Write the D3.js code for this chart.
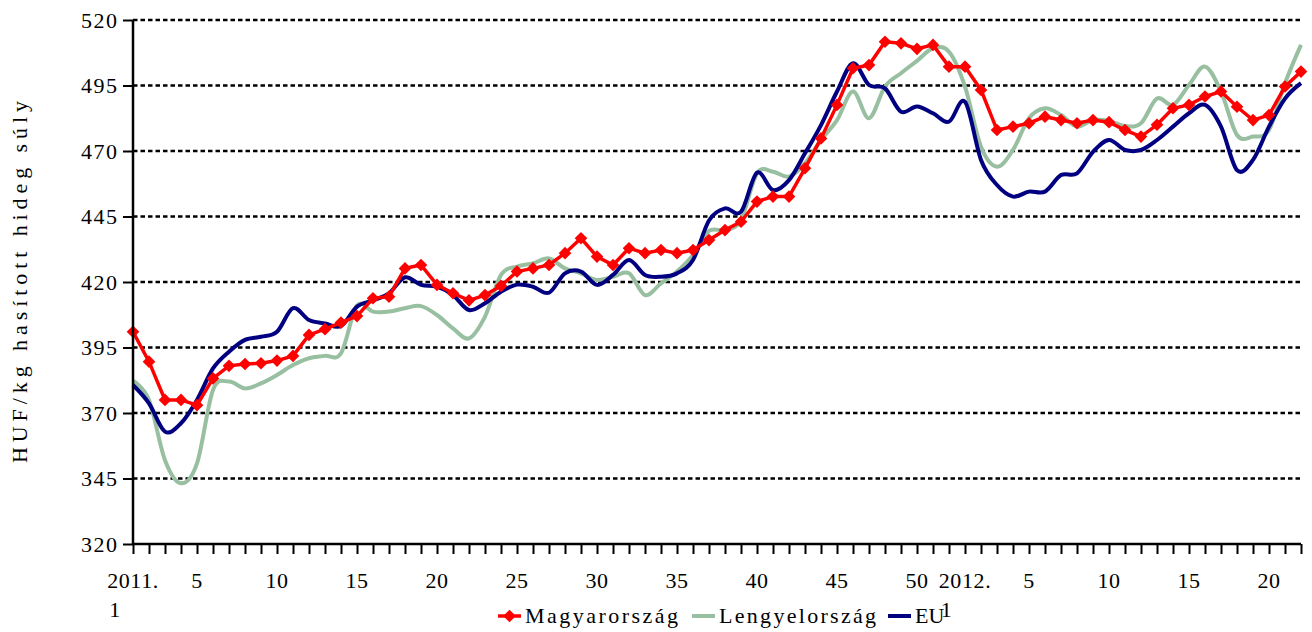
<!DOCTYPE html>
<html lang="hu">
<head>
    <meta charset="UTF-8">
    <title>Sertésárak</title>
    <script src="https://cdn.jsdelivr.net/npm/d3@7"></script>
    <style>
        body { margin: 0; background: #fff; }
        text { font-family: "Liberation Serif", "Times New Roman", serif; fill: #000; }
    </style>
</head>
<body>
    <script>
        // 2011. 1. héttől 2012. 22. hétig
        const weeks2011 = d3.range(1, 53);
        const weeks2012 = d3.range(1, 23);
        const categories = [
            ...weeks2011.map(w => w === 1 ? "2011.|1" : String(w)),
            ...weeks2012.map(w => w === 1 ? "2012.|1" : String(w))
        ];
        const yTicks = [320, 345, 370, 395, 420, 445, 470, 495, 520];

        const magyar = [
            401, 389.6, 375, 375, 373, 383.2, 388, 388.7, 389, 390, 391.8, 399.8, 402,
            404.5, 407, 413.8, 414.4, 425.2, 426.5, 418.9, 415.7, 413, 415, 418.5,
            424, 425.2, 426.5, 431, 436.7, 429.7, 426.5, 432.9, 431, 432.2, 431, 432.2,
            436, 439.8, 443, 450.7, 452.6, 452.6, 463.4, 474.8, 487.6, 501.6, 502.8,
            511.7, 511.1, 509, 510.5, 502.2,
            502.2, 493.3, 478, 479.3, 480.6, 483.1, 481.8, 480.6, 481.8, 481, 478,
            475.5, 480, 486.3, 487.6, 490.8, 492.7, 486.9, 481.8, 483.7, 494.6, 500.3
        ];
        const lengyel = [
            382.3, 375, 352, 343.2, 350.8, 378.8, 382, 379.4, 381.3, 384.5, 388.3, 390.9, 391.8,
            392.8, 411, 408.7, 408.7, 410, 410.8, 407.4, 402.3, 398.5, 406.8, 422.7,
            425.9, 427.1, 429, 425.2, 423.3, 420.8, 422, 423.3, 415, 419.5, 424, 430.3,
            439.5, 439.8, 443.7, 461.5, 462.1, 460.2, 465.3, 474.2, 481.8, 492.7, 482.5,
            494.6, 499.7, 504.4, 509.2, 507.9,
            494.6, 471.6, 464, 470.4, 482.5, 486.3, 483.7, 479.3, 481.8, 481.5, 479.5,
            480.6, 490, 487.6, 495.2, 502.2, 492.7, 476.1, 475.5, 478, 495.9, 510.5
        ];
        const eu = [
            380.7, 373.7, 362.9, 366.1, 375, 387, 393.4, 397.9, 399.1, 401, 410, 405.5, 404.2,
            403.2, 410.6, 413, 415.7, 421.8, 418.9, 418.2, 415, 409.3, 411.9, 416.3,
            419, 418.2, 415.9, 423.3, 424, 418.9, 422.7, 428.4, 422.7, 422, 423.3, 428.4,
            443.5, 448.1, 446.8, 461.7, 455.1, 458.9, 469.1, 479.9, 492.7, 503.5, 495.2,
            493.9, 485, 487, 484.4, 481.2,
            488.8, 466.6, 457, 452.6, 454.5, 454.5, 460.8, 461.5, 469.7, 474.2, 470.4,
            470.4, 474.2, 479.3, 484.4, 487.6, 479.3, 462.7, 466.6, 479.3, 490, 495.9
        ];

        const seriesNames = ["Magyarország", "Lengyelország", "EU"];
        const seriesColors = ["#ff0000", "#97bfa0", "#000080"];

        const width = 1312, height = 632;
        const plotLeft = 133, plotRight = 1301, plotTop = 20, plotBottom = 544;
        const fontSize = 22;

        const x = d3.scalePoint().domain(d3.range(categories.length)).range([plotLeft, plotRight]);
        const y = d3.scaleLinear().domain([320, 520]).range([plotBottom, plotTop]);

        const svg = d3.select("body").append("svg").attr("width", width).attr("height", height);

        // rácsvonalak
        svg.append("g").selectAll("line").data(yTicks.slice(1)).enter().append("line")
            .attr("x1", plotLeft).attr("x2", plotRight)
            .attr("y1", d => y(d)).attr("y2", d => y(d))
            .attr("stroke", "#000").attr("stroke-width", 2.5).attr("stroke-dasharray", "4.5,3");

        // vonalak
        const smooth = d3.line().x((d, i) => x(i)).y(d => y(d)).curve(d3.curveCatmullRom.alpha(0));
        const straight = d3.line().x((d, i) => x(i)).y(d => y(d));

        svg.append("path").attr("d", smooth(lengyel)).attr("fill", "none")
            .attr("stroke", seriesColors[1]).attr("stroke-width", 4);
        svg.append("path").attr("d", smooth(eu)).attr("fill", "none")
            .attr("stroke", seriesColors[2]).attr("stroke-width", 4);
        svg.append("path").attr("d", straight(magyar)).attr("fill", "none")
            .attr("stroke", seriesColors[0]).attr("stroke-width", 3.5);

        const diamond = d3.symbol().type(d3.symbolSquare).size(80);
        svg.append("g").selectAll("path").data(magyar).enter().append("path")
            .attr("d", diamond)
            .attr("transform", (d, i) => `translate(${x(i)},${y(d)}) rotate(45)`)
            .attr("fill", seriesColors[0]);

        // tengelyek
        const xAxis = d3.axisBottom(x).tickSize(10).tickPadding(0).tickFormat("");
        const gx = svg.append("g").attr("transform", `translate(0,${plotBottom})`).call(xAxis);
        gx.select(".domain").attr("stroke-width", 2.5).attr("d", `M${plotLeft},0H${plotRight}`);
        gx.selectAll(".tick line").attr("stroke-width", 2);

        const labels = svg.append("g").attr("font-size", fontSize);
        categories.forEach((c, i) => {
            const parts = c.split("|");
            const week = +parts[parts.length - 1];
            if (!(week === 1 || week % 5 === 0)) return;
            const t = labels.append("text").attr("x", x(i)).attr("y", 588)
                .attr("text-anchor", "middle").attr("letter-spacing", 0.6).text(parts[0]);
            if (parts.length > 1) {
                const w = t.node().getComputedTextLength();
                labels.append("text").attr("x", x(i) - w / 2 + 2).attr("y", 617).text(parts[1]);
            }
        });

        const yAxis = d3.axisLeft(y).tickValues(yTicks).tickSize(10).tickPadding(0).tickFormat("");
        const gy = svg.append("g").attr("transform", `translate(${plotLeft},0)`).call(yAxis);
        gy.select(".domain").attr("stroke-width", 2.5).attr("d", `M0,${plotTop}V${plotBottom}`);
        gy.selectAll(".tick line").attr("stroke-width", 2);
        svg.append("g").attr("font-size", fontSize).selectAll("text").data(yTicks).enter().append("text")
            .attr("x", 117).attr("y", d => y(d) + 7.5).attr("text-anchor", "end")
            .attr("textLength", 36).attr("lengthAdjust", "spacing")
            .text(d => d);

        svg.append("text")
            .attr("transform", `translate(27,${(plotTop + plotBottom) / 2}) rotate(-90)`)
            .attr("text-anchor", "middle").attr("font-size", fontSize)
            .attr("textLength", 362).attr("lengthAdjust", "spacing")
            .text("HUF/kg hasított hideg súly");

        // jelmagyarázat
        const legendX = [498, 692, 888];
        const legendLen = [153, 157, 0];
        const legend = svg.append("g").attr("font-size", fontSize);
        seriesNames.forEach((name, i) => {
            const lx = legendX[i];
            legend.append("line").attr("x1", lx).attr("x2", lx + 23).attr("y1", 616).attr("y2", 616)
                .attr("stroke", seriesColors[i]).attr("stroke-width", i === 0 ? 3.5 : 4);
            if (i === 0) {
                legend.append("path").attr("d", diamond)
                    .attr("transform", `translate(${lx + 11.5},616) rotate(45)`).attr("fill", seriesColors[0]);
            }
            const t = legend.append("text").attr("x", lx + 27).attr("y", 623).text(name);
            if (legendLen[i]) t.attr("textLength", legendLen[i]).attr("lengthAdjust", "spacing");
        });
    </script>
</body>
</html>
